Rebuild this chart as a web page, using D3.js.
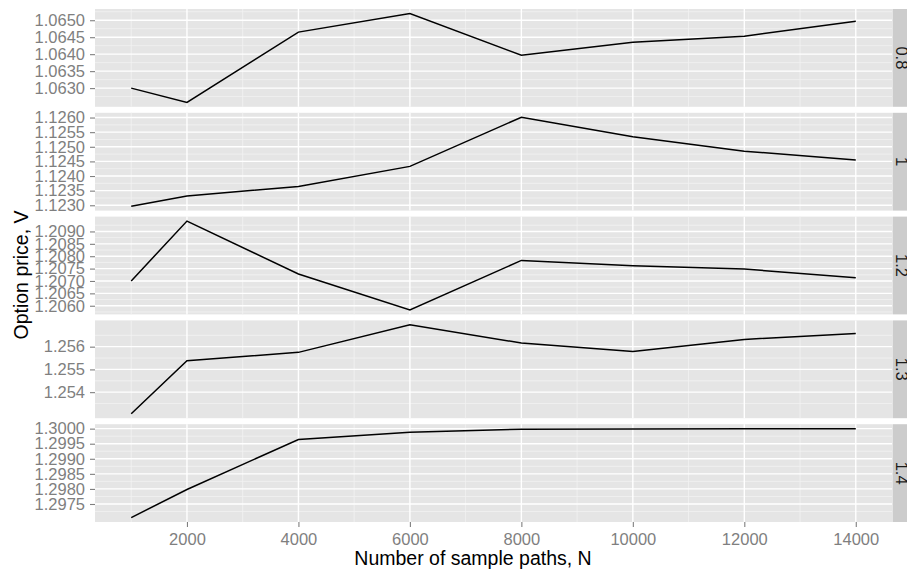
<!DOCTYPE html>
<html>
<head>
<meta charset="utf-8">
<script src="https://cdn.jsdelivr.net/npm/d3@7"></script>
<style>
  body { margin: 0; background: #fff; }
  text { font-family: "Liberation Sans", Arial, Helvetica, sans-serif; }
</style>
</head>
<body>
<script>
// sample path counts (x) and option price per strike (facet rows)
const pathCounts = [1000, 2000, 4000, 6000, 8000, 10000, 12000, 14000];
const strikes = ["0.8", "1", "1.2", "1.3", "1.4"];

const price08 = [1.06300, 1.06258, 1.06465, 1.06520, 1.06397, 1.06435, 1.06453, 1.06497];
const price10 = [1.12297, 1.12332, 1.12364, 1.12433, 1.12601, 1.12534, 1.12485, 1.12455];
const price12 = [1.20700, 1.20942, 1.20728, 1.20583, 1.20783, 1.20761, 1.20748, 1.20713];
const price13 = [1.25305, 1.25538, 1.25575, 1.25696, 1.25616, 1.25579, 1.25632, 1.25658];
const price14 = [1.29705, 1.29798, 1.29964, 1.29988, 1.29998, 1.29999, 1.30000, 1.30000];

const xTicks = [2000, 4000, 6000, 8000, 10000, 12000, 14000];
const yTicks08 = [1.0630, 1.0635, 1.0640, 1.0645, 1.0650];
const yTicks10 = [1.1230, 1.1235, 1.1240, 1.1245, 1.1250, 1.1255, 1.1260];
const yTicks12 = [1.2060, 1.2065, 1.2070, 1.2075, 1.2080, 1.2085, 1.2090];
const yTicks13 = [1.254, 1.255, 1.256];
const yTicks14 = [1.2975, 1.2980, 1.2985, 1.2990, 1.2995, 1.3000];

const panels = [
  {strike: strikes[0], values: price08, ticks: yTicks08, digits: 4},
  {strike: strikes[1], values: price10, ticks: yTicks10, digits: 4},
  {strike: strikes[2], values: price12, ticks: yTicks12, digits: 4},
  {strike: strikes[3], values: price13, ticks: yTicks13, digits: 3},
  {strike: strikes[4], values: price14, ticks: yTicks14, digits: 4}
];

const W = 907, H = 570;
const plot = {left: 95, right: 892, top: 9, bottom: 522};
const gap = 6;
const panelH = (plot.bottom - plot.top - gap * (panels.length - 1)) / panels.length;
const stripW = 26;

const svg = d3.select("body").append("svg")
    .attr("width", W)
    .attr("height", H);

// ggplot-style expanded domain
function expand(ext, f) {
  const d = (ext[1] - ext[0]) * f;
  return [ext[0] - d, ext[1] + d];
}

const x = d3.scaleLinear()
    .domain(expand(d3.extent(pathCounts), 0.05))
    .range([plot.left, plot.right]);

const xMinor = d3.range(1000, 15000, 2000).filter(v => v > x.domain()[0] && v < x.domain()[1]);

panels.forEach((p, i) => {
  const y0 = plot.top + i * (panelH + gap);
  const y = d3.scaleLinear()
      .domain(expand(d3.extent(p.values), 0.05))
      .range([y0 + panelH, y0]);

  const g = svg.append("g");

  g.append("rect")
      .attr("x", plot.left).attr("y", y0)
      .attr("width", plot.right - plot.left).attr("height", panelH)
      .attr("fill", "#E5E5E5");

  // minor grid
  const step = p.ticks[1] - p.ticks[0];
  const yMinor = [p.ticks[0] - step / 2].concat(p.ticks.map(t => t + step / 2))
      .filter(v => v > y.domain()[0] && v < y.domain()[1]);

  g.selectAll(".ymin").data(yMinor).enter().append("line")
      .attr("x1", plot.left).attr("x2", plot.right)
      .attr("y1", d => y(d)).attr("y2", d => y(d))
      .attr("stroke", "#F2F2F2").attr("stroke-width", 0.8);
  g.selectAll(".xmin").data(xMinor).enter().append("line")
      .attr("x1", d => x(d)).attr("x2", d => x(d))
      .attr("y1", y0).attr("y2", y0 + panelH)
      .attr("stroke", "#F2F2F2").attr("stroke-width", 0.8);

  // major grid
  g.selectAll(".ymaj").data(p.ticks).enter().append("line")
      .attr("x1", plot.left).attr("x2", plot.right)
      .attr("y1", d => y(d)).attr("y2", d => y(d))
      .attr("stroke", "#fff").attr("stroke-width", 1.4);
  g.selectAll(".xmaj").data(xTicks).enter().append("line")
      .attr("x1", d => x(d)).attr("x2", d => x(d))
      .attr("y1", y0).attr("y2", y0 + panelH)
      .attr("stroke", "#fff").attr("stroke-width", 1.4);

  // the price line
  const line = d3.line()
      .x((d, j) => x(pathCounts[j]))
      .y(d => y(d));
  g.append("path")
      .datum(p.values)
      .attr("d", line)
      .attr("fill", "none")
      .attr("stroke", "#000")
      .attr("stroke-width", 1.5);

  // y axis
  const yAxis = g.append("g")
      .attr("transform", "translate(" + plot.left + ",0)")
      .call(d3.axisLeft(y).tickValues(p.ticks).tickFormat(d3.format("." + p.digits + "f"))
        .tickSize(5).tickPadding(5));
  yAxis.select(".domain").remove();
  yAxis.selectAll("line").attr("stroke", "#7F7F7F").attr("stroke-width", 1.1);
  yAxis.selectAll("text")
      .attr("fill", "#7F7F7F")
      .style("font-size", "16.5px")
      .attr("font-family", null);

  // strip on the right
  g.append("rect")
      .attr("x", plot.right + 0.5).attr("y", y0)
      .attr("width", stripW).attr("height", panelH)
      .attr("fill", "#CCCCCC");
  g.append("text")
      .attr("transform", "translate(" + (plot.right + 10) + "," + (y0 + panelH / 2) + ") rotate(90)")
      .attr("text-anchor", "middle")
      .attr("dy", "0.35em")
      .style("font-size", "16.5px")
      .attr("fill", "#1a1a1a")
      .text(p.strike);
});

// x axis under last panel
const xAxis = svg.append("g")
    .attr("transform", "translate(0," + plot.bottom + ")")
    .call(d3.axisBottom(x).tickValues(xTicks).tickFormat(d3.format("d")).tickSize(5).tickPadding(6));
xAxis.select(".domain").remove();
xAxis.selectAll("line").attr("stroke", "#7F7F7F").attr("stroke-width", 1.1);
xAxis.selectAll("text")
    .attr("fill", "#7F7F7F")
    .style("font-size", "16.5px")
    .attr("font-family", null);

// axis titles
svg.append("text")
    .attr("x", 473).attr("y", 565)
    .attr("text-anchor", "middle")
    .style("font-size", "19.5px")
    .attr("fill", "#000")
    .text("Number of sample paths, N");

svg.append("text")
    .attr("transform", "translate(28,275) rotate(-90)")
    .attr("text-anchor", "middle")
    .style("font-size", "19.5px")
    .attr("fill", "#000")
    .text("Option price, V");
</script>
</body>
</html>
